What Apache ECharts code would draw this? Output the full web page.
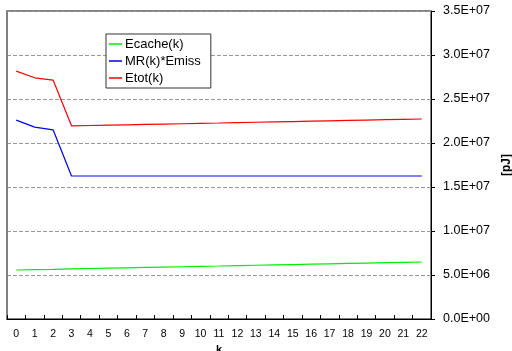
<!DOCTYPE html>
<html><head><meta charset="utf-8">
<script src="https://cdn.jsdelivr.net/npm/echarts@6/dist/echarts.min.js"></script>
<style>html,body{margin:0;padding:0;background:#fff}#c{width:512px;height:351px}</style>
</head><body><div id="c"></div>
<script>
const categories = ['0','1','2','3','4','5','6','7','8','9','10','11','12','13','14','15','16','17','18','19','20','21','22'];
const ecache = [5.57e6,5.61e6,5.65e6,5.70e6,5.74e6,5.78e6,5.82e6,5.86e6,5.90e6,5.94e6,5.98e6,6.02e6,6.07e6,6.11e6,6.15e6,6.19e6,6.23e6,6.27e6,6.32e6,6.36e6,6.40e6,6.44e6,6.48e6];
const mrEmiss = [22.6e6,21.8e6,21.5e6,16.25e6,16.25e6,16.25e6,16.25e6,16.25e6,16.25e6,16.25e6,16.25e6,16.25e6,16.25e6,16.25e6,16.25e6,16.25e6,16.25e6,16.25e6,16.25e6,16.25e6,16.25e6,16.25e6,16.25e6];
const etot = [28.17e6,27.41e6,27.15e6,21.95e6,21.99e6,22.03e6,22.07e6,22.11e6,22.15e6,22.19e6,22.23e6,22.27e6,22.32e6,22.36e6,22.40e6,22.44e6,22.48e6,22.52e6,22.57e6,22.61e6,22.65e6,22.69e6,22.73e6];
const yTicks = ['0.0E+00','5.0E+06','1.0E+07','1.5E+07','2.0E+07','2.5E+07','3.0E+07','3.5E+07'];
const seriesNames = ['Ecache(k)','MR(k)*Emiss','Etot(k)'];
const colors = ['#00ee00','#0000ee','#ff0000'];

const font = 'Liberation Sans, Arial, sans-serif';
const chart = echarts.init(document.getElementById('c'), null, {renderer:'canvas'});
const mk = (name, data, color) => ({
  name, type:'line', data, symbol:'none', yAxisIndex:0,
  lineStyle:{color, width:1.2}, itemStyle:{color}
});
chart.setOption({
  animation:false,
  grid:{left:7, right:81, top:11, bottom:32, show:true, borderColor:'#000', borderWidth:1,
        outerBoundsMode:'none', containLabel:false},
  legend:{
    orient:'vertical', left:106, top:34, data:seriesNames,
    icon:'rect', itemWidth:13, itemHeight:1.5, itemGap:3,
    backgroundColor:'#fff', borderColor:'#333', borderWidth:1, padding:[3,10,3,3],
    textStyle:{fontFamily:font, fontSize:13, lineHeight:14, color:'#000', padding:[0,0,0,-2]}
  },
  xAxis:{
    type:'category', data:categories, boundaryGap:true,
    name:'k', nameLocation:'middle', nameGap:22,
    nameTextStyle:{fontFamily:font, fontSize:11, fontWeight:'bold', color:'#000'},
    axisLine:{lineStyle:{color:'#000', width:1}},
    axisTick:{show:true, length:4, inside:true, alignWithLabel:false, lineStyle:{color:'#000'}},
    axisLabel:{fontFamily:font, fontSize:10.5, color:'#000', margin:10, interval:0},
    splitLine:{show:false}
  },
  yAxis:[{
    type:'value', position:'right', min:0, max:3.5e7, interval:5e6,
    name:'[pJ]', nameLocation:'middle', nameGap:67, nameRotate:90,
    nameTextStyle:{fontFamily:font, fontSize:12, fontWeight:'bold', color:'#000'},
    axisLine:{show:true, lineStyle:{color:'#000', width:1}},
    axisTick:{show:true, length:4, lineStyle:{color:'#000'}},
    axisLabel:{fontFamily:font, fontSize:12.5, color:'#000', margin:12,
      formatter:(v)=>yTicks[Math.round(v/5e6)]},
    splitLine:{show:true, lineStyle:{color:'#999', type:[4,2], width:1}}
  },{
    type:'value', position:'left', min:0, max:6, interval:1,
    axisLine:{show:true, lineStyle:{color:'#808080', width:2}},
    axisTick:{show:false}, axisLabel:{show:false}, splitLine:{show:false}
  }],
  series:[mk(seriesNames[0], ecache, colors[0]), mk(seriesNames[1], mrEmiss, colors[1]), mk(seriesNames[2], etot, colors[2])]
});
</script></body></html>
